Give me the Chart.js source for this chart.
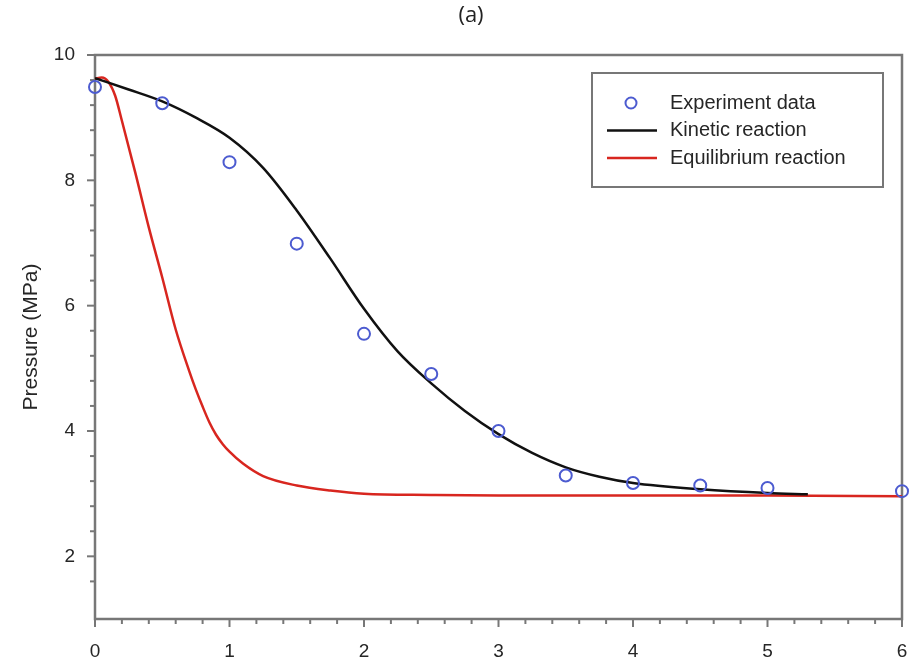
<!DOCTYPE html>
<html>
<head>
<meta charset="utf-8">
<script src="https://cdn.jsdelivr.net/npm/chart.js@4/dist/chart.umd.min.js"></script>
<style>
  html, body { margin: 0; padding: 0; background: #fff; }
</style>
</head>
<body>
<canvas id="pressureChart" width="911" height="666"></canvas>
<script>
// measured pressure (MPa)
const EXP_T = [0, 0.5, 1, 1.5, 2, 2.5, 3, 3.5, 4, 4.5, 5, 6];
const EXP_P = [9.49, 9.23, 8.29, 6.99, 5.55, 4.91, 4.0, 3.29, 3.17, 3.13, 3.09, 3.04];

// kinetic reaction model
const KIN_T = [0, 0.25, 0.5, 0.75, 1.0, 1.25, 1.5, 1.75, 2.0, 2.25, 2.5, 2.75, 3.0, 3.25, 3.5, 3.75, 4.0, 4.5, 5.0, 5.3];
const KIN_P = [9.63, 9.45, 9.26, 9.0, 8.68, 8.2, 7.52, 6.75, 5.95, 5.27, 4.76, 4.32, 3.95, 3.65, 3.42, 3.27, 3.17, 3.07, 3.01, 2.99];

// equilibrium reaction model
const EQ_T = [0, 0.05, 0.1, 0.15, 0.2, 0.3, 0.4, 0.5, 0.6, 0.7, 0.75, 0.8, 0.85, 0.9, 0.95, 1.0, 1.1, 1.25, 1.5, 1.75, 2.0, 2.5, 3.0, 4.0, 5.0, 6.0];
const EQ_P = [9.62, 9.64, 9.57, 9.35, 8.95, 8.12, 7.25, 6.45, 5.62, 4.96, 4.66, 4.39, 4.14, 3.94, 3.79, 3.67, 3.48, 3.28, 3.13, 3.05, 3.0, 2.98, 2.97, 2.97, 2.97, 2.96];

const X_LABELS = [0, 1, 2, 3, 4, 5, 6];
const Y_LABELS = [2, 4, 6, 8, 10];
const PANEL = '(a)';

const FONT = "'Liberation Sans', Arial, sans-serif";
const FRAME = '#777';
const INK = '#262626';

const toXY = (xs, ys) => xs.map((x, i) => ({ x: x, y: ys[i] }));
const near = (v, list) => list.find(l => Math.abs(v - l) < 1e-6);

// box around the plot plus tick marks
const framePlugin = {
  id: 'frame',
  beforeDatasetsDraw(chart) {
    const { ctx, chartArea: a } = chart;
    ctx.save();
    ctx.strokeStyle = FRAME;
    ctx.lineWidth = 2.5;
    ctx.strokeRect(a.left, a.top, a.right - a.left, a.bottom - a.top);

    ctx.lineWidth = 2;
    const xs = chart.scales.x;
    xs.ticks.forEach(t => {
      const px = xs.getPixelForValue(t.value);
      const len = near(t.value, X_LABELS) !== undefined ? 8 : 5;
      ctx.beginPath();
      ctx.moveTo(px, a.bottom);
      ctx.lineTo(px, a.bottom + len);
      ctx.stroke();
    });
    const ys = chart.scales.y;
    ys.ticks.forEach(t => {
      const q = t.value / 0.4;
      if (Math.abs(q - Math.round(q)) > 1e-6) return;
      const py = ys.getPixelForValue(t.value);
      const len = near(t.value, Y_LABELS) !== undefined ? 8 : 5;
      ctx.beginPath();
      ctx.moveTo(a.left - len, py);
      ctx.lineTo(a.left, py);
      ctx.stroke();
    });
    ctx.restore();
  }
};

// panel letter above the plot
const panelTitle = {
  id: 'panelTitle',
  afterDraw(chart) {
    const { ctx } = chart;
    ctx.save();
    ctx.font = "22px 'Open Sans', sans-serif";
    ctx.fillStyle = '#222';
    ctx.textAlign = 'center';
    ctx.textBaseline = 'middle';
    ctx.fillText(PANEL, 471, 16);
    ctx.restore();
  }
};

// legend box inside the plot, top right
const legendBox = {
  id: 'legendBox',
  afterDraw(chart) {
    const { ctx, chartArea: a } = chart;
    const w = 291, h = 114;
    const x0 = a.right - 19 - w, y0 = a.top + 18;
    ctx.save();
    ctx.fillStyle = '#fff';
    ctx.fillRect(x0, y0, w, h);
    ctx.strokeStyle = FRAME;
    ctx.lineWidth = 2;
    ctx.strokeRect(x0, y0, w, h);

    ctx.font = '20px ' + FONT;
    ctx.textBaseline = 'middle';
    ctx.fillStyle = INK;
    chart.data.datasets.forEach((ds, i) => {
      const cy = y0 + 30 + i * 27.5;
      ctx.strokeStyle = ds.borderColor;
      ctx.lineWidth = ds.borderWidth;
      ctx.beginPath();
      if (ds.showLine) {
        ctx.moveTo(x0 + 15, cy);
        ctx.lineTo(x0 + 65, cy);
      } else {
        ctx.arc(x0 + 39, cy, ds.pointRadius - 0.5, 0, Math.PI * 2);
      }
      ctx.stroke();
      ctx.fillText(ds.label, x0 + 78, cy);
    });
    ctx.restore();
  }
};

new Chart(document.getElementById('pressureChart'), {
  type: 'scatter',
  data: {
    datasets: [
      {
        label: 'Experiment data',
        data: toXY(EXP_T, EXP_P),
        showLine: false,
        pointRadius: 6,
        pointHoverRadius: 6,
        borderWidth: 2,
        borderColor: '#4c5bd0',
        backgroundColor: 'rgba(0,0,0,0)',
        clip: false
      },
      {
        label: 'Kinetic reaction',
        data: toXY(KIN_T, KIN_P),
        showLine: true,
        pointRadius: 0,
        borderWidth: 2.5,
        borderColor: '#111',
        cubicInterpolationMode: 'monotone'
      },
      {
        label: 'Equilibrium reaction',
        data: toXY(EQ_T, EQ_P),
        showLine: true,
        pointRadius: 0,
        borderWidth: 2.5,
        borderColor: '#d8261f',
        cubicInterpolationMode: 'monotone'
      }
    ]
  },
  options: {
    responsive: false,
    animation: false,
    devicePixelRatio: 1,
    layout: { padding: { left: 0, right: 9, top: 55, bottom: 0 } },
    plugins: {
      legend: { display: false },
      tooltip: { enabled: false },
      title: { display: false }
    },
    scales: {
      x: {
        type: 'linear',
        min: 0,
        max: 6,
        grid: { display: false, drawTicks: false },
        border: { display: false },
        ticks: {
          stepSize: 0.2,
          autoSkip: false,
          maxRotation: 0,
          padding: 21,
          color: INK,
          font: { family: FONT, size: 19 },
          callback: v => {
            const l = near(v, X_LABELS);
            return l !== undefined ? String(l) : '';
          }
        },
        afterFit: s => {
          s.height = 47;
          s.paddingLeft = 0;
          s.paddingRight = 0;
        }
      },
      y: {
        min: 1,
        max: 10,
        grid: { display: false, drawTicks: false },
        border: { display: false },
        ticks: {
          stepSize: 0.4,
          autoSkip: false,
          padding: 20,
          color: INK,
          font: { family: FONT, size: 19 },
          callback: v => {
            const l = near(v, Y_LABELS);
            return l !== undefined ? String(l) : '';
          }
        },
        title: {
          display: true,
          text: 'Pressure (MPa)',
          color: INK,
          font: { family: FONT, size: 21 },
          padding: { top: 19, bottom: 0 }
        },
        afterFit: s => {
          s.width = 95;
          s.paddingTop = 0;
          s.paddingBottom = 0;
        }
      }
    }
  },
  plugins: [framePlugin, legendBox, panelTitle]
});
</script>
</body>
</html>
